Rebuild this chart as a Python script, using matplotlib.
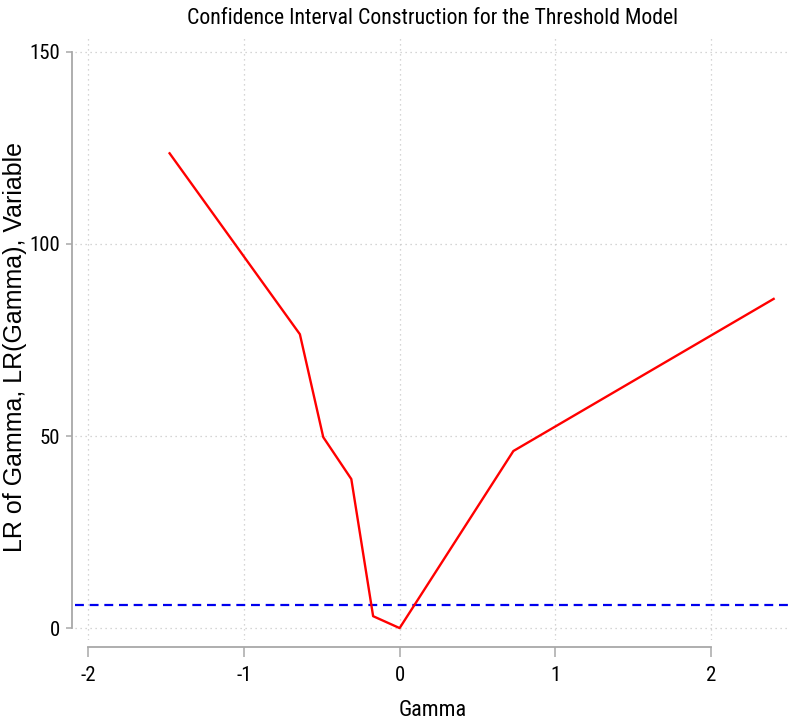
import matplotlib
matplotlib.use('Agg')
import matplotlib.pyplot as plt

# values
gamma = [-1.476, -0.64, -0.49, -0.31, -0.17, 0.0, 0.73, 2.40]
lr = [123.6, 76.5, 49.7, 38.8, 3.1, 0.0, 46.1, 85.7]
crit = 6.0
xticks = [-2, -1, 0, 1, 2]
yticks = [0, 50, 100, 150]

narrow = ['Roboto Condensed', 'Liberation Sans']

fig = plt.figure(figsize=(7.9, 7.22), dpi=100)
ax = fig.add_axes([75 / 790, 82 / 722, 715 / 790, 605 / 722])

ax.plot(gamma, lr, color='red', lw=1.7, zorder=3)
ax.axhline(crit, color='#0000ee', lw=1.6, ls=(0, (4, 2.6)), zorder=2)

ax.set_xlim(-2.083, 2.505)
ax.set_ylim(-3.1, 154.4)

ax.grid(True, color='#c8c8c8', ls=(0, (1, 3)), lw=0.9)
for s in ['top', 'right']:
    ax.spines[s].set_visible(False)
ax.spines['left'].set_position(('outward', 2.2))
ax.spines['bottom'].set_position(('outward', 5))
ax.spines['left'].set_bounds(0, 150)
ax.spines['bottom'].set_bounds(-2, 2)
for s in ['left', 'bottom']:
    ax.spines[s].set_color('#a8a8a8')
    ax.spines[s].set_linewidth(1.3)

# ticks after spine moves (set_position resets them)
ax.set_xticks(xticks)
ax.set_yticks(yticks)
ax.set_xticklabels([str(t) for t in xticks], family=narrow, fontsize=15)
ax.set_yticklabels([str(t) for t in yticks], family=narrow, fontsize=15)
ax.tick_params(axis='y', length=4.5, width=1.1, color='#a8a8a8', pad=4)
ax.tick_params(axis='x', length=7.5, width=1.1, color='#a8a8a8', pad=6)

ax.set_title('Confidence Interval Construction for the Threshold Model',
             family=narrow, fontsize=15.7, pad=8)
ax.set_xlabel('Gamma', family=narrow, fontsize=16, labelpad=11)
ax.set_ylabel('LR of Gamma, LR(Gamma), Variable', family='Liberation Sans',
              fontsize=18)
ax.yaxis.set_label_coords(-0.067, 0.484)

fig.savefig('out.png', dpi=100)
